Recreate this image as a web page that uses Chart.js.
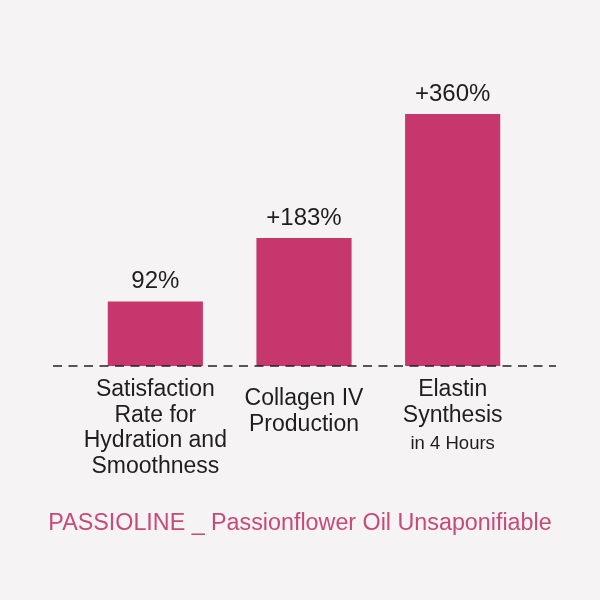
<!DOCTYPE html>
<html>
<head>
<meta charset="utf-8">
<script src="https://cdn.jsdelivr.net/npm/chart.js@4"></script>
<style>
    html, body { margin: 0; padding: 0; background: #f5f3f4; }
    #wrap { width: 600px; height: 600px; }
</style>
</head>
<body>
<div id="wrap"><canvas id="passioChart" width="600" height="600"></canvas></div>
<script>
// dados do gráfico
const categories = [
    ['Satisfaction', 'Rate for', 'Hydration and', 'Smoothness'],
    ['Collagen IV', 'Production'],
    ['Elastin', 'Synthesis']
];
const subNotes = ['', '', 'in 4 Hours'];
const values = [92, 183, 360];
const valueLabels = ['92%', '+183%', '+360%'];
const titleText = 'PASSIOLINE _ Passionflower Oil Unsaponifiable';

const FONT = '"Liberation Sans", Arial, Helvetica, sans-serif';
const PINK = '#c6376d';
const TITLE_PINK = '#c84a78';

// rótulos, linha tracejada, textos das categorias e título
const decorPlugin = {
    id: 'decor',
    afterDatasetsDraw(chart) {
        const ctx = chart.ctx;
        const xs = chart.scales.x;
        const ys = chart.scales.y;
        const base = ys.getPixelForValue(0);

        // linha tracejada
        ctx.save();
        ctx.strokeStyle = '#222';
        ctx.lineWidth = 1.4;
        ctx.setLineDash([9, 6.5]);
        ctx.beginPath();
        ctx.moveTo(53, base);
        ctx.lineTo(556, base);
        ctx.stroke();
        ctx.restore();

        // valores acima das barras
        const meta = chart.getDatasetMeta(0);
        ctx.save();
        ctx.fillStyle = '#1e1e1e';
        ctx.font = '24px ' + FONT;
        ctx.textAlign = 'center';
        ctx.textBaseline = 'middle';
        meta.data.forEach(function(bar, i) {
            ctx.fillText(valueLabels[i], bar.x, bar.y - 20);
        });
        ctx.restore();

        // nomes das categorias
        ctx.save();
        ctx.fillStyle = '#1e1e1e';
        ctx.textAlign = 'center';
        ctx.textBaseline = 'middle';
        categories.forEach(function(lines, i) {
            const cx = xs.getPixelForValue(i);
            const top = base + (lines.length === 2 && !subNotes[i] ? 33 : 24);
            ctx.font = '23px ' + FONT;
            lines.forEach(function(line, j) {
                ctx.fillText(line, cx, top + j * 25.5);
            });
            if (subNotes[i]) {
                ctx.font = '18.5px ' + FONT;
                ctx.fillText(subNotes[i], cx, top + lines.length * 25.5 + 3);
            }
        });
        ctx.restore();

        // título embaixo
        ctx.save();
        ctx.fillStyle = TITLE_PINK;
        ctx.font = '23.3px ' + FONT;
        ctx.textAlign = 'center';
        ctx.textBaseline = 'middle';
        ctx.fillText(titleText, chart.width / 2, base + 158);
        ctx.restore();
    }
};

new Chart(document.getElementById('passioChart'), {
    type: 'bar',
    data: {
        labels: categories.map(function(c) { return c.join(' '); }),
        datasets: [{
            data: values,
            backgroundColor: PINK,
            borderWidth: 0,
            barPercentage: 0.8,
            categoryPercentage: 0.8
        }]
    },
    options: {
        responsive: false,
        animation: false,
        layout: {
            padding: { left: 81, right: 73, top: 86, bottom: 234 }
        },
        plugins: {
            legend: { display: false },
            tooltip: { enabled: false },
            title: { display: false }
        },
        scales: {
            x: { display: false },
            y: { display: false, min: 0, max: 400 }
        }
    },
    plugins: [decorPlugin]
});
</script>
</body>
</html>
